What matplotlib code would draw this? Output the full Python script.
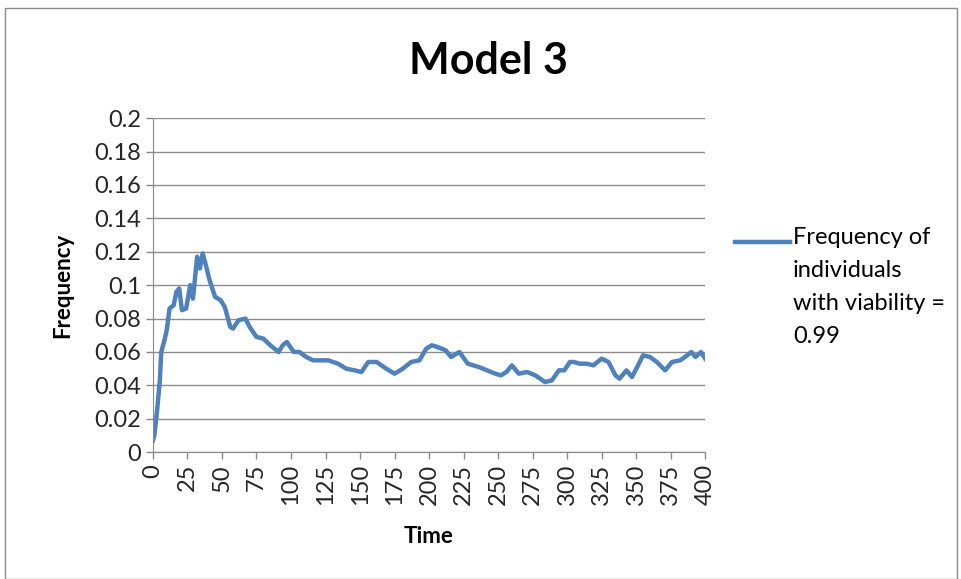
import numpy as np
import matplotlib
matplotlib.use("Agg")
import matplotlib.pyplot as plt
from matplotlib.patches import Rectangle

plt.rcParams['font.family'] = ['Lato', 'DejaVu Sans']

# valeurs
time = [0, 1, 3, 5, 6, 8, 10, 12, 15, 17, 19, 21, 24, 27, 29, 32, 34, 36, 38, 41,
        45, 49, 52, 56, 58, 62, 67, 70, 75, 80, 85, 91, 94, 97, 102, 106, 111, 116,
        121, 127, 134, 140, 146, 151, 156, 162, 169, 175, 181, 187, 193, 198, 202,
        206, 212, 216, 222, 228, 236, 242, 248, 252, 256, 260, 265, 271, 277, 284,
        289, 294, 298, 302, 305, 309, 314, 319, 325, 330, 335, 338, 343, 347, 352,
        355, 360, 365, 371, 376, 382, 387, 390, 393, 397, 400]
freq = [0.007, 0.010, 0.025, 0.043, 0.060, 0.066, 0.073, 0.086, 0.088, 0.096, 0.098,
        0.085, 0.086, 0.100, 0.092, 0.117, 0.110, 0.119, 0.113, 0.103, 0.093, 0.091,
        0.087, 0.075, 0.074, 0.079, 0.080, 0.075, 0.069, 0.068, 0.064, 0.060, 0.064,
        0.066, 0.060, 0.060, 0.057, 0.055, 0.055, 0.055, 0.053, 0.050, 0.049, 0.048,
        0.054, 0.054, 0.050, 0.047, 0.050, 0.054, 0.055, 0.062, 0.064, 0.063, 0.061,
        0.057, 0.060, 0.053, 0.051, 0.049, 0.047, 0.046, 0.048, 0.052, 0.047, 0.048,
        0.046, 0.042, 0.043, 0.049, 0.049, 0.054, 0.054, 0.053, 0.053, 0.052, 0.056,
        0.054, 0.046, 0.044, 0.049, 0.045, 0.053, 0.058, 0.057, 0.054, 0.049, 0.054,
        0.055, 0.058, 0.060, 0.057, 0.060, 0.056]
x_ticks = list(range(0, 401, 25))
y_ticks = [0, 0.02, 0.04, 0.06, 0.08, 0.1, 0.12, 0.14, 0.16, 0.18, 0.2]
y_labels = ['0', '0.02', '0.04', '0.06', '0.08', '0.1', '0.12', '0.14', '0.16', '0.18', '0.2']

fig = plt.figure(figsize=(9.62, 5.79), dpi=100)
ax = fig.add_axes([0.159, 0.219, 0.574, 0.577])

ax.plot(time, freq, color='#4F81BD', lw=3.2,
        label='Frequency of\nindividuals\nwith viability =\n0.99')

ax.set_xlim(0, 400)
ax.set_ylim(0, 0.2)
ax.set_xticks(x_ticks)
ax.set_xticklabels([str(t) for t in x_ticks], rotation=90)
ax.set_yticks(y_ticks)
ax.set_yticklabels(y_labels)
ax.tick_params(labelsize=17, labelcolor='#262626', length=5, width=1, color='#888888')
ax.yaxis.grid(True, color='#8c8c8c', lw=1)
ax.set_axisbelow(True)
for s in ['top', 'right']:
    ax.spines[s].set_visible(False)
for s in ['left', 'bottom']:
    ax.spines[s].set_color('#888888')

ax.set_xlabel('Time', fontsize=16, fontweight='bold', labelpad=15)
ax.set_ylabel('Frequency', fontsize=16, fontweight='bold', labelpad=15)
fig.text(0.508, 0.895, 'Model 3', ha='center', va='center', fontsize=31, fontweight='bold')

leg = ax.legend(loc='upper left', bbox_to_anchor=(1.054, 0.673), frameon=False,
                fontsize=17, handlelength=2.35, handletextpad=0.1,
                borderpad=0, borderaxespad=0)
leg.get_texts()[0].set_linespacing(1.7)
# le trait de la légende est aligné sur la première ligne du texte
h = leg.legend_handles[0]
h.set_ydata(np.asarray(h.get_ydata()) + 33)

# cadre du graphique
fig.patches.append(Rectangle((0.005, 0.0), 0.99, 0.987, transform=fig.transFigure,
                             fill=False, edgecolor='#8c8c8c', lw=1))

fig.savefig('out.png', dpi=100)
